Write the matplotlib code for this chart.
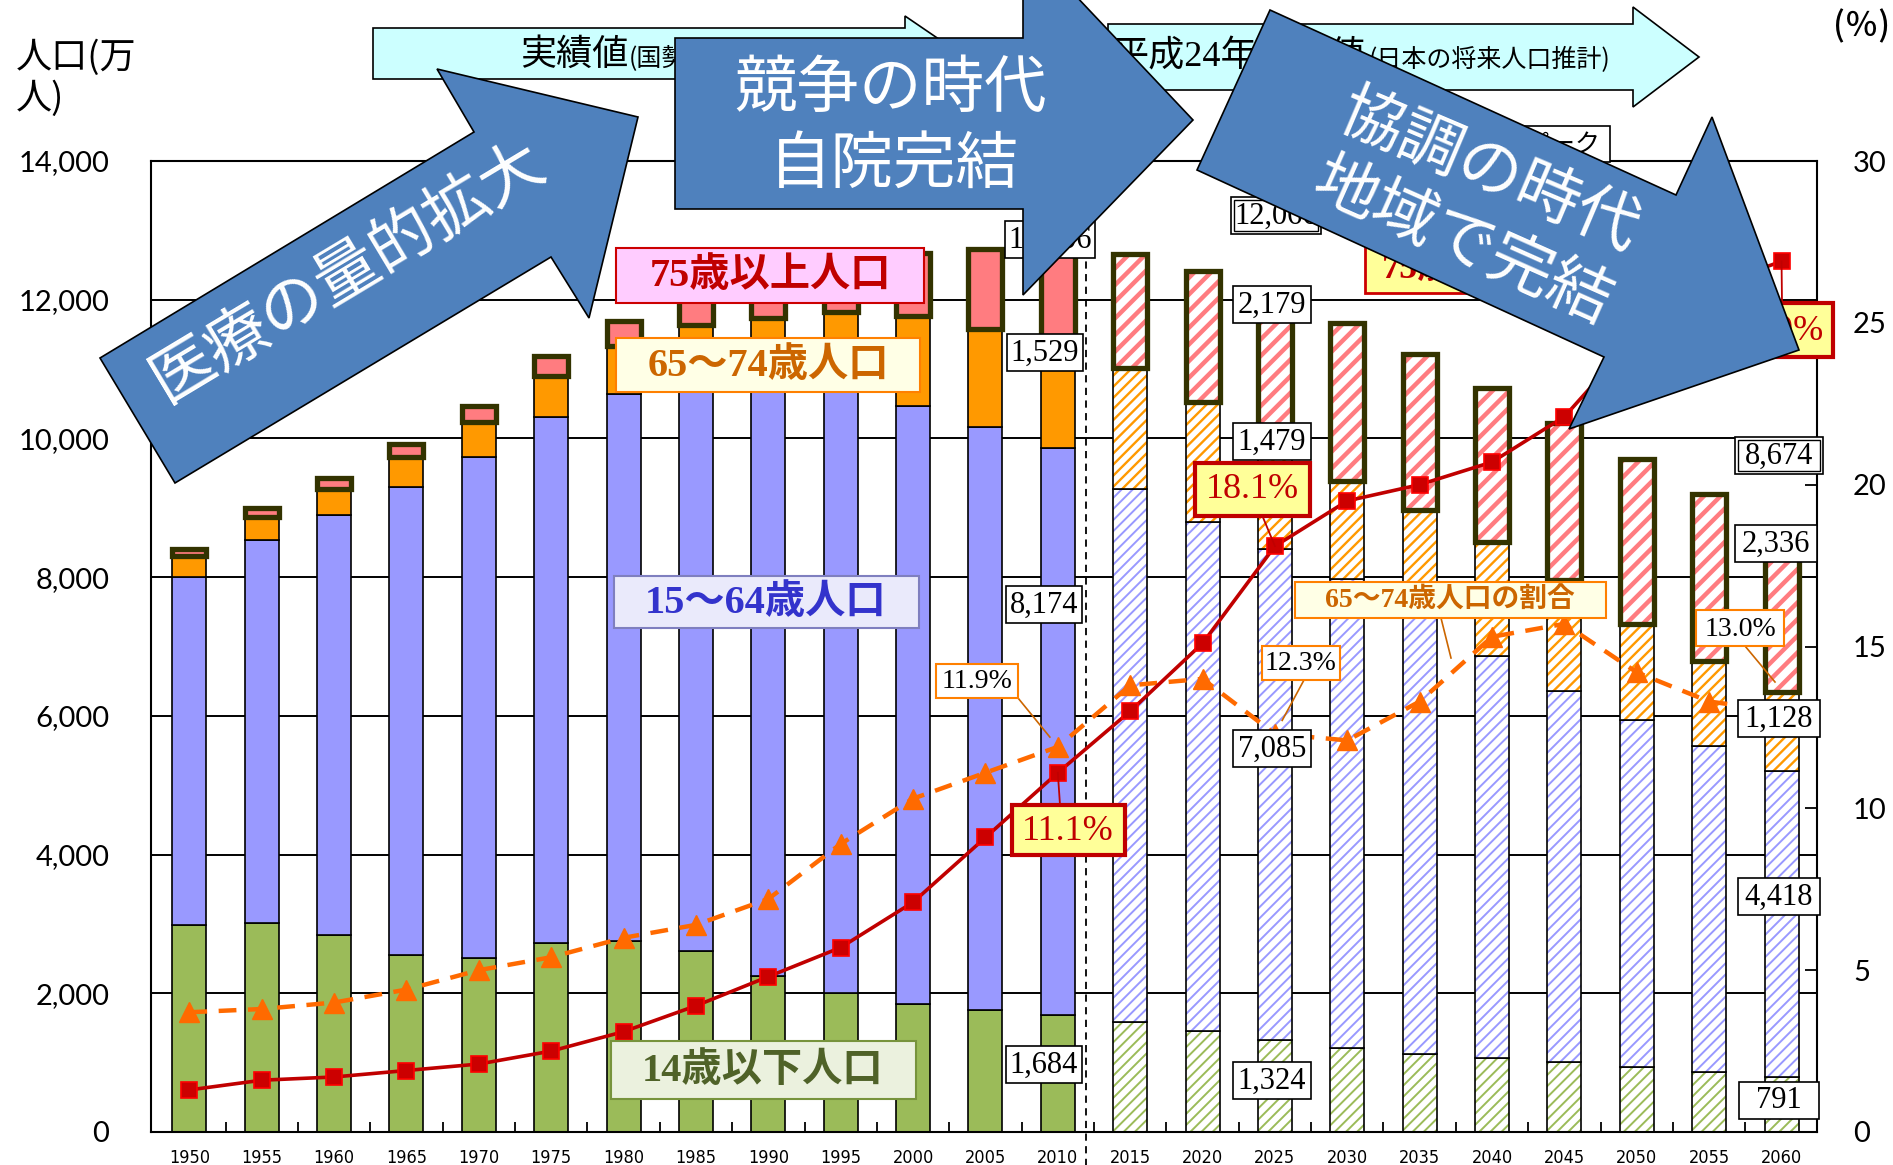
import matplotlib
matplotlib.use('Agg')
import matplotlib.pyplot as plt
import numpy as np
from matplotlib.patches import Polygon, Rectangle

plt.rcParams['font.family'] = ['Noto Sans CJK JP', 'DejaVu Sans']

# ---------------- data ----------------
years = [1950, 1955, 1960, 1965, 1970, 1975, 1980, 1985, 1990, 1995, 2000, 2005, 2010,
         2015, 2020, 2025, 2030, 2035, 2040, 2045, 2050, 2055, 2060]
pop_0_14 = [2979, 3012, 2843, 2553, 2515, 2722, 2751, 2603, 2249, 2001, 1847, 1752, 1684,
            1583, 1457, 1324, 1204, 1129, 1073, 1012, 939, 861, 791]
pop_15_64 = [5017, 5517, 6047, 6744, 7212, 7581, 7883, 8251, 8590, 8716, 8622, 8409, 8174,
             7682, 7341, 7085, 6773, 6343, 5787, 5353, 5001, 4706, 4418]
pop_65_74 = [309, 336, 377, 435, 516, 601, 699, 776, 892, 1109, 1301, 1412, 1529,
             1749, 1733, 1479, 1407, 1495, 1645, 1600, 1383, 1225, 1128]
pop_75 = [107, 139, 163, 189, 224, 284, 366, 471, 597, 717, 901, 1164, 1419,
          1646, 1879, 2179, 2278, 2245, 2223, 2257, 2385, 2401, 2336]
ratio_75 = [1.3, 1.6, 1.7, 1.9, 2.1, 2.5, 3.1, 3.9, 4.8, 5.7, 7.1, 9.1, 11.1,
            13.0, 15.1, 18.1, 19.5, 20.0, 20.7, 22.1, 24.6, 26.1, 26.9]
ratio_65_74 = [3.7, 3.8, 4.0, 4.4, 5.0, 5.4, 6.0, 6.4, 7.2, 8.9, 10.3, 11.1, 11.9,
               13.8, 14.0, 12.3, 12.1, 13.3, 15.3, 15.7, 14.2, 13.3, 13.0]
n_actual = 13  # 1950-2010: 実績値, 2015-: 推計値
left_ticks = [0, 2000, 4000, 6000, 8000, 10000, 12000, 14000]
right_ticks = [0, 5, 10, 15, 20, 25, 30]

# ---------------- figure ----------------
W, H = 1893, 1165
fig = plt.figure(figsize=(W / 100, H / 100), dpi=100)
L, R, B, T = 151, 1817, 1132, 161
ax = fig.add_axes([L / W, 1 - B / H, (R - L) / W, (B - T) / H])
ax.set_xlim(-0.53, 22.49)
ax.set_ylim(0, 14000)
ax.set_axisbelow(True)

x = np.arange(len(years))
act = x < n_actual
bw = 0.47
seg_vals = [np.array(pop_0_14), np.array(pop_15_64), np.array(pop_65_74), np.array(pop_75)]
seg_cols = ['#9BBB59', '#9999FF', '#FF9900', '#FF7C80']
hatches = ['///', '///', '///', '//']
hatch_lw = [1.4, 1.4, 1.7, 3.2]
bottom = np.zeros(len(years))
for k in range(4):
    v = seg_vals[k]
    col = seg_cols[k]
    is75 = (k == 3)
    ec = '#333300' if is75 else 'black'
    lw = 3.8 if is75 else 1.2
    ax.bar(x[act], v[act], bottom=bottom[act], width=bw, color=col,
           edgecolor=ec, linewidth=lw, zorder=2 + k * 0.1)
    with plt.rc_context({'hatch.linewidth': hatch_lw[k]}):
        bc = ax.bar(x[~act], v[~act], bottom=bottom[~act], width=bw, facecolor='white',
                    edgecolor=col, hatch=hatches[k], linewidth=0, zorder=2 + k * 0.1)
    for p in bc:
        if hasattr(p, 'set_hatch_linewidth'):
            p.set_hatch_linewidth(hatch_lw[k])
    ax.bar(x[~act], v[~act], bottom=bottom[~act], width=bw, fill=False,
           edgecolor=ec, linewidth=lw, zorder=2.05 + k * 0.1)
    bottom = bottom + v

ax.yaxis.grid(True, color='black', linewidth=1.4)
ax.set_yticks(left_ticks)
ax.set_yticklabels([f'{t:,}' for t in left_ticks], fontsize=21, family=['Lato', 'DejaVu Sans'])
ax.tick_params(axis='y', length=0, pad=30)
ax.set_xticks(x)
ax.set_xticklabels([str(y) for y in years], fontsize=13, family=['DejaVu Sans'],
                   fontstretch='condensed')
ax.tick_params(axis='x', length=0, pad=12)
ax.set_xticks(x[:-1] + 0.5, minor=True)
ax.tick_params(axis='x', which='minor', direction='in', length=7, width=1.3)
for s in ax.spines.values():
    s.set_linewidth(1.5)
    s.set_color('black')

# separator between actual and projection
sep = n_actual - 0.61
ax.plot([sep, sep], [-500, 14000], color='black', lw=1.3, ls=(0, (4, 3)), clip_on=False, zorder=3)

# ---------------- ratio lines ----------------
ax2 = ax.twinx()
ax2.set_ylim(0, 30)
ax2.set_yticks(right_ticks)
ax2.set_yticklabels([str(t) for t in right_ticks], fontsize=21, family=['Lato', 'DejaVu Sans'])
ax2.tick_params(axis='y', direction='in', length=9, width=1.3, pad=26)
for s in ax2.spines.values():
    s.set_visible(False)
ax2.plot(x, ratio_65_74, color='#FF6A00', lw=3.2, ls=(0, (4, 2.6)), marker='^',
         markersize=15, markerfacecolor='#FF6A00', markeredgecolor='#FF6A00', zorder=4)
ax2.plot(x, ratio_75, color='#C00000', lw=2.6, marker='s', markersize=11,
         markerfacecolor='#CC0000', markeredgecolor='#FF0000', markeredgewidth=1.2, zorder=5)

# ---------------- overlay (pixel coordinates) ----------------
ov = fig.add_axes([0, 0, 1, 1])
ov.set_xlim(0, W)
ov.set_ylim(H, 0)
ov.axis('off')
ov.patch.set_visible(False)
ov.set_zorder(10)

SERIF = ['Liberation Serif', 'Noto Sans CJK JP']
CJK = ['Noto Sans CJK JP', 'DejaVu Sans']


def px(axis, xv, yv):
    d = axis.transData.transform((xv, yv))
    return d[0], H - d[1]


def box(cx, cy, w, h, text, fc='white', ec='black', lw=1.2, color='black', size=22,
        family=SERIF, weight='normal', z=5, double=False, ha='center', tx=None):
    ov.add_patch(Rectangle((cx - w / 2, cy - h / 2), w, h, facecolor=fc, edgecolor=ec,
                           linewidth=lw, zorder=z))
    if double:
        ov.add_patch(Rectangle((cx - w / 2 + 3, cy - h / 2 + 3), w - 6, h - 6, facecolor='none',
                               edgecolor=ec, linewidth=1.0, zorder=z))
    ov.text(cx if tx is None else tx, cy + 1, text, ha=ha, va='center', fontsize=size,
            family=family, weight=weight, color=color, zorder=z + 0.1)


# y-axis titles
ov.text(16, 58, '人口(万', fontsize=26, family=CJK, ha='left', va='center')
ov.text(16, 99, '人)', fontsize=26, family=CJK, ha='left', va='center')
ov.text(1890, 27, '(％)', fontsize=24, family=CJK, ha='right', va='center', weight='medium')

# header cyan arrows
ov.add_patch(Polygon([(373, 28), (905, 28), (905, 16), (960, 53.5), (905, 91), (905, 79), (373, 79)],
                     closed=True, facecolor='#CCFFFF', edgecolor='black', lw=1.2, zorder=2))
ov.text(520, 55, '実績値', fontsize=26, family=CJK, ha='left', va='center', zorder=2.1)
ov.text(629, 58, '(国勢調査)', fontsize=18, family=CJK, ha='left', va='center', zorder=2.1)
ov.add_patch(Polygon([(1108, 24), (1633, 24), (1633, 7), (1699, 57), (1633, 107), (1633, 90), (1108, 90)],
                     closed=True, facecolor='#CCFFFF', edgecolor='black', lw=1.2, zorder=2))
ov.text(1112, 57, '平成24年推計値', fontsize=26, family=SERIF, ha='left', va='center', zorder=2.1)
ov.text(1369, 60, '(日本の将来人口推計)', fontsize=18, family=CJK, ha='left', va='center', zorder=2.1)

# category labels
box(770, 275, 308, 55, '75歳以上人口', fc='#FFCCFF', ec='#CC0000', lw=1.5, color='#C00000',
    size=29, weight='bold')
box(768, 365, 304, 54, '65～74歳人口', fc='#FFFFE6', ec='#FF8000', lw=1.5, color='#CC6600',
    size=29, weight='bold')
box(766, 602, 305, 52, '15～64歳人口', fc='#EAEAFB', ec='#7F7FBF', lw=1.5, color='#3333CC',
    size=29, weight='bold')
box(763, 1070, 305, 58, '14歳以下人口', fc='#EBF1DE', ec='#77933C', lw=1.5, color='#4F6228',
    size=29, weight='bold')
box(1450, 600, 311, 36, '65～74歳人口の割合', fc='#FFFFE6', ec='#FF8000', lw=1.5, color='#CC6600',
    size=20, weight='bold')
box(1530, 268, 330, 50, '75歳以上人口の割合', fc='#FFFF99', ec='#CC0000', lw=2, color='#C00000',
    size=26, weight='bold', ha='left', tx=1382)
box(1495, 144, 230, 36, '人口のピーク', fc='white', ec='black', lw=1.2, size=18, family=CJK,
    ha='right', tx=1600)

# value boxes
box(1050, 239, 90, 37, '12,806')
box(1045, 352, 76, 37, '1,529')
box(1044, 604, 76, 37, '8,174')
box(1044, 1064, 76, 37, '1,684')
box(1276, 215, 90, 37, '12,066', double=True)
box(1272, 304, 78, 37, '2,179')
box(1272, 441, 78, 37, '1,479')
box(1272, 748, 78, 37, '7,085')
box(1272, 1080, 78, 37, '1,324')
box(1779, 455, 88, 37, '8,674', double=True)
box(1776, 543, 82, 37, '2,336')
box(1779, 718, 82, 37, '1,128')
box(1779, 896, 82, 37, '4,418')
box(1779, 1100, 80, 37, '791')

# percent boxes with leader lines
i2010, i2025, i2060 = years.index(2010), years.index(2025), years.index(2060)
mx, my = px(ax2, i2010, ratio_75[i2010])
ov.plot([1060, mx], [805, my], color='#C00000', lw=1.3, zorder=4.9)
box(1068, 830, 113, 50, '11.1%', fc='#FFFF99', ec='#C00000', lw=3, color='#C00000', size=26)
mx, my = px(ax2, i2025, ratio_75[i2025])
ov.plot([1262, mx], [515, my], color='#C00000', lw=1.3, zorder=4.9)
box(1252, 489, 115, 53, '18.1%', fc='#FFFF99', ec='#C00000', lw=3, color='#C00000', size=26)
mx, my = px(ax2, i2060, ratio_75[i2060])
ov.plot([1782, mx], [303, my], color='#C00000', lw=1.3, zorder=4.9)
box(1777, 330, 112, 54, '26.9%', fc='#FFFF99', ec='#C00000', lw=3, color='#C00000', size=26)
mx, my = px(ax2, i2010, ratio_65_74[i2010])
ov.plot([1018, 1018 + 0.8 * (mx - 1018)], [698, 698 + 0.8 * (my - 698)], color='#CC6600', lw=1.2, zorder=4.9)
box(977, 681, 82, 34, '11.9%', fc='white', ec='#FF8000', lw=1.5, size=20)
mx, my = px(ax2, i2025, ratio_65_74[i2025])
ov.plot([1304, 1304 + 0.75 * (mx - 1304)], [680, 680 + 0.75 * (my - 680)], color='#CC6600', lw=1.2, zorder=4.9)
box(1301, 663, 78, 34, '12.3%', fc='white', ec='#FF8000', lw=1.5, size=20)
ov.plot([1745, 1775], [646, 682], color='#CC6600', lw=1.2, zorder=4.9)
box(1740, 628, 88, 36, '13.0%', fc='white', ec='#FF8000', lw=1.5, size=20)
ov.plot([1441, 1451], [618, 658], color='#CC6600', lw=1.2, zorder=4.9)

# big blue arrows
BLUE = '#4F81BD'
ov.add_patch(Polygon([(100, 358), (474, 132), (437, 69), (638, 117), (589, 318), (551, 257), (175, 483)],
                     closed=True, facecolor=BLUE, edgecolor='black', lw=1.2, zorder=20))
ov.text(348, 272, '医療の量的拡大', fontsize=46, color='white', family=CJK, rotation=31,
        ha='center', va='center', rotation_mode='anchor', zorder=21)
ov.add_patch(Polygon([(675, 38), (1023, 38), (1023, -60), (1193, 120), (1023, 295), (1023, 209), (675, 209)],
                     closed=True, facecolor=BLUE, edgecolor='black', lw=1.2, zorder=20))
ov.text(891, 89, '競争の時代', fontsize=45, color='white', family=CJK, ha='center', va='center', zorder=21)
ov.text(894, 165, '自院完結', fontsize=45, color='white', family=CJK, ha='center', va='center', zorder=21)
ov.add_patch(Polygon([(1270, 10), (1676, 195), (1712, 117), (1799, 350), (1569, 429), (1604, 357), (1197, 170)],
                     closed=True, facecolor=BLUE, edgecolor='black', lw=1.2, zorder=20))
ov.text(1489, 173, '協調の時代', fontsize=46, color='white', family=CJK, rotation=-23,
        ha='center', va='center', rotation_mode='anchor', zorder=21)
ov.text(1462, 243, '地域で完結', fontsize=46, color='white', family=CJK, rotation=-24,
        ha='center', va='center', rotation_mode='anchor', zorder=21)

fig.savefig('out.png', dpi=100)
